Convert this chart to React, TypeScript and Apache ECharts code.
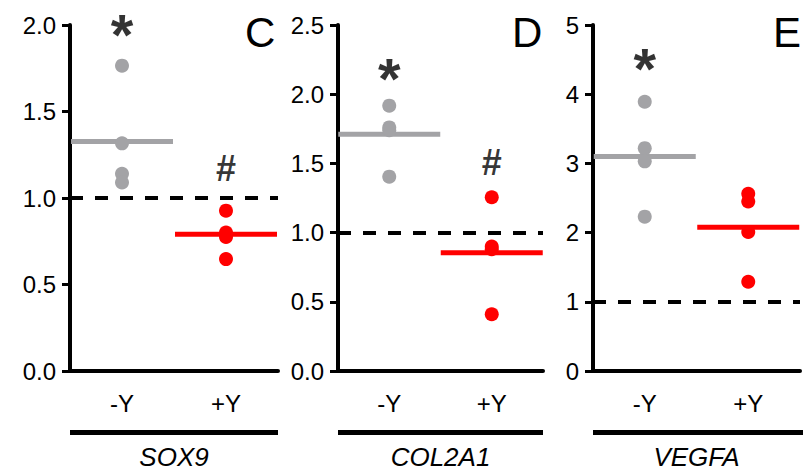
import React, { useEffect, useRef } from "react";
import * as echarts from "echarts";

// ---- data ----
const categories = ["-Y", "+Y"];
const genes = ["SOX9", "COL2A1", "VEGFA"];
const panelLetters = ["C", "D", "E"];
const yMax = [2.0, 2.5, 5];
const yInterval = [0.5, 0.5, 1];
const yDecimals = [1, 1, 0];

const sox9Minus = [1.765, 1.316, 1.14, 1.09];
const sox9Plus = [0.927, 0.8, 0.775, 0.647];
const col2a1Minus = [1.917, 1.76, 1.74, 1.404];
const col2a1Plus = [1.255, 0.9, 0.88, 0.41];
const vegfaMinus = [3.89, 3.22, 3.03, 2.23];
const vegfaPlus = [2.56, 2.45, 2.01, 1.29];

const meanMinus = [1.327, 1.71, 3.1];
const meanPlus = [0.79, 0.855, 2.077];
const baselineValue = [1, 1, 1];

const starY = [1.99, 2.17, 4.48];
const hashY: (number | null)[] = [1.17, 1.51, null];

const minusGroups = [sox9Minus, col2a1Minus, vegfaMinus];
const plusGroups = [sox9Plus, col2a1Plus, vegfaPlus];

// ---- layout ----
const GRIDS = [
  { left: 70, width: 208 },
  { left: 338, width: 205 },
  { left: 593, width: 207 },
];
const GRID_TOP = 25;
const GRID_H = 346;
const LETTER_X = [245, 512, 773];
const GRAY = "#a3a3a6";
const RED = "#ff0000";
const FONT = "'Liberation Sans', Arial, Helvetica, sans-serif";

export default function App() {
  const ref = useRef<HTMLDivElement>(null);
  useEffect(() => {
    if (!ref.current) return;
    const chart = echarts.init(ref.current, undefined, { renderer: "svg" });

    const grid = GRIDS.map((g) => ({
      left: g.left,
      top: GRID_TOP,
      width: g.width,
      height: GRID_H,
      containLabel: false,
    }));

    const xAxis = GRIDS.map((_, i) => ({
      type: "category",
      gridIndex: i,
      data: categories,
      boundaryGap: true,
      axisLine: { show: true, lineStyle: { color: "#000", width: 4 } },
      axisTick: { show: false },
      axisLabel: { color: "#000", fontSize: 24, fontFamily: FONT, margin: 20 },
      splitLine: { show: false },
    }));

    const yAxis = GRIDS.map((_, i) => ({
      type: "value",
      gridIndex: i,
      min: 0,
      max: yMax[i],
      interval: yInterval[i],
      axisLine: { show: true, lineStyle: { color: "#000", width: 4 } },
      axisTick: { show: true, length: 8, lineStyle: { color: "#000", width: 3 } },
      axisLabel: {
        color: "#000",
        fontSize: 24,
        fontFamily: FONT,
        margin: 14,
        formatter: (v: number) => v.toFixed(yDecimals[i]),
      },
      splitLine: { show: false },
    }));

    const annLabel = (text: string, size: number, dy: number) => ({
      show: true,
      position: "inside",
      formatter: text,
      fontSize: size,
      fontWeight: "bold",
      fontFamily: FONT,
      color: "#000",
      offset: [0, dy],
    });

    const series: any[] = [];
    GRIDS.forEach((_, i) => {
      series.push({
        type: "line",
        xAxisIndex: i,
        yAxisIndex: i,
        data: [],
        markLine: {
          silent: true,
          symbol: ["none", "none"],
          label: { show: false },
          lineStyle: { color: "#000", width: 4, type: [13, 12] },
          data: [{ yAxis: baselineValue[i] }],
        },
      });
      series.push({
        type: "scatter",
        xAxisIndex: i,
        yAxisIndex: i,
        symbol: "rect",
        symbolSize: [102, 5],
        itemStyle: { color: GRAY, opacity: 1 },
        data: [[0, meanMinus[i]]],
        z: 2,
      });
      series.push({
        type: "scatter",
        xAxisIndex: i,
        yAxisIndex: i,
        symbol: "rect",
        symbolSize: [102, 5],
        itemStyle: { color: RED, opacity: 1 },
        data: [[1, meanPlus[i]]],
        z: 2,
      });
      series.push({
        type: "scatter",
        xAxisIndex: i,
        yAxisIndex: i,
        symbolSize: 14,
        itemStyle: { color: GRAY, opacity: 1 },
        data: minusGroups[i].map((v) => [0, v]),
        z: 3,
      });
      series.push({
        type: "scatter",
        xAxisIndex: i,
        yAxisIndex: i,
        symbolSize: 14,
        itemStyle: { color: RED, opacity: 1 },
        data: plusGroups[i].map((v) => [1, v]),
        z: 3,
      });
      series.push({
        type: "scatter",
        xAxisIndex: i,
        yAxisIndex: i,
        symbolSize: 2,
        itemStyle: { color: "rgba(0,0,0,0)" },
        clip: false,
        silent: true,
        data: [[0, starY[i]]],
        label: annLabel("*", 58, 8),
        z: 4,
      });
      if (hashY[i] !== null) {
        series.push({
          type: "scatter",
          xAxisIndex: i,
          yAxisIndex: i,
          symbolSize: 2,
          itemStyle: { color: "rgba(0,0,0,0)" },
          clip: false,
          silent: true,
          data: [[1, hashY[i]]],
          label: annLabel("#", 36, 0),
          z: 4,
        });
      }
    });

    const graphic: any[] = [];
    GRIDS.forEach((g, i) => {
      graphic.push({
        type: "rect",
        shape: { x: g.left, y: 430, width: i === 2 ? 803 - g.left : g.width, height: 5 },
        style: { fill: "#000" },
      });
      graphic.push({
        type: "text",
        x: g.left + g.width / 2,
        y: 457,
        style: {
          text: genes[i],
          fontSize: 26,
          fontStyle: "italic",
          fontFamily: FONT,
          fill: "#000",
          align: "center",
          verticalAlign: "middle",
        },
      });
      graphic.push({
        type: "text",
        x: LETTER_X[i],
        y: 32,
        style: {
          text: panelLetters[i],
          fontSize: 42,
          fontFamily: FONT,
          fill: "#000",
          align: "left",
          verticalAlign: "middle",
        },
      });
    });

    chart.setOption({
      animation: false,
      backgroundColor: "#fff",
      grid,
      xAxis,
      yAxis,
      series,
      graphic,
    });
    return () => chart.dispose();
  }, []);

  return (
    <div
      ref={ref}
      style={{ position: "fixed", left: 0, top: 0, width: 803, height: 471 }}
    />
  );
}
